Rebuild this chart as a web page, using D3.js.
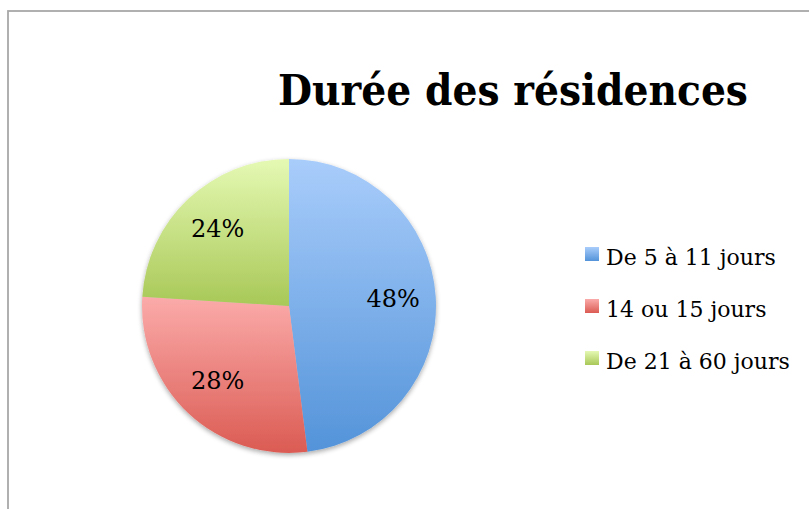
<!DOCTYPE html>
<html>
<head>
<meta charset="utf-8">
<script src="https://cdn.jsdelivr.net/npm/d3@7/dist/d3.min.js"></script>
<style>
  html, body { margin: 0; padding: 0; background: #fff; }
  svg { display: block; }
  text { font-family: "DejaVu Serif", "Liberation Serif", serif; fill: #000; }
</style>
</head>
<body>
<script>
// Durée des résidences — répartition en pourcentage
const categories = ["De 5 à 11 jours", "14 ou 15 jours", "De 21 à 60 jours"];
const shares = [48, 28, 24];
const colorsTop = ["#a9cdfb", "#fbabaa", "#e5f9b3"];
const colorsBottom = ["#5393d9", "#db5b53", "#a8c857"];
const title = "Durée des résidences";

const W = 809, H = 509;
const svg = d3.select("body").append("svg").attr("width", W).attr("height", H);
const defs = svg.append("defs");

// Chart frame (only top and left edges fall inside the view)
svg.append("rect")
  .attr("x", 8).attr("y", 11).attr("width", 900).attr("height", 600)
  .attr("fill", "none").attr("stroke", "#a8a8a8").attr("stroke-width", 1.8);

svg.append("text")
  .attr("x", 513).attr("y", 105)
  .attr("text-anchor", "middle")
  .attr("font-weight", "bold")
  .attr("font-size", 43)
  .attr("textLength", 470).attr("lengthAdjust", "spacingAndGlyphs")
  .text(title);

const cx = 289, cy = 306, R = 147;
const pie = d3.pie().sort(null).value(d => d);
const arcs = pie(shares);
const arc = d3.arc().innerRadius(0).outerRadius(R);

// soft shadow under the disc
const shadow = defs.append("filter").attr("id", "shadow")
  .attr("x", "-20%").attr("y", "-20%").attr("width", "140%").attr("height", "140%");
shadow.append("feGaussianBlur").attr("in", "SourceAlpha").attr("stdDeviation", 2.5);
shadow.append("feOffset").attr("dy", 2).attr("result", "b");
shadow.append("feComponentTransfer").append("feFuncA").attr("type", "linear").attr("slope", 0.35);
const merge = shadow.append("feMerge");
merge.append("feMergeNode");
merge.append("feMergeNode").attr("in", "SourceGraphic");

// one vertical gradient per slice, spanning the slice's own height
arcs.forEach((a, i) => {
  const g = defs.append("linearGradient").attr("id", "grad" + i)
    .attr("x1", 0).attr("y1", 0).attr("x2", 0).attr("y2", 1);
  g.append("stop").attr("offset", "0%").attr("stop-color", colorsTop[i]);
  g.append("stop").attr("offset", "100%").attr("stop-color", colorsBottom[i]);
});

const gPie = svg.append("g").attr("transform", `translate(${cx},${cy})`);
gPie.append("g").attr("filter", "url(#shadow)")
  .selectAll("path").data(arcs).join("path")
  .attr("d", arc)
  .attr("fill", (d, i) => `url(#grad${i})`);

const labelArc = d3.arc().innerRadius(R * 0.71).outerRadius(R * 0.71);
gPie.selectAll("text.pct").data(arcs).join("text")
  .attr("class", "pct")
  .attr("transform", d => {
    const [x, y] = labelArc.centroid(d);
    return `translate(${x},${y})`;
  })
  .attr("text-anchor", "middle")
  .attr("dy", "0.3em")
  .attr("font-size", 24)
  .text(d => d.data + "%");

// legend
const legend = svg.append("g").attr("transform", "translate(585,247)");
const item = legend.selectAll("g").data(categories).join("g")
  .attr("transform", (d, i) => `translate(0,${i * 52})`);
item.append("rect")
  .attr("width", 14).attr("height", 14)
  .attr("fill", (d, i) => `url(#grad${i})`);
item.append("text")
  .attr("x", 21).attr("y", 18)
  .attr("font-size", 22)
  .text(d => d);
</script>
</body>
</html>
